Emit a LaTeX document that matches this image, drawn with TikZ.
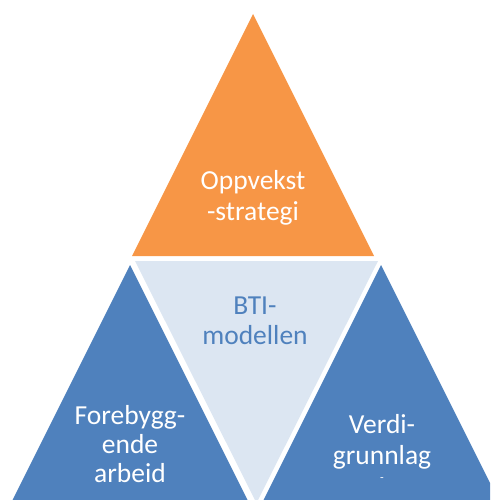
\documentclass[tikz,border=0pt]{standalone}
\usepackage{fontspec}
\setmainfont{Carlito}
\usepackage{tikz}
\usetikzlibrary{positioning}
\definecolor{oppOrange}{HTML}{F79646}
\definecolor{btiBlue}{HTML}{4F81BD}
\definecolor{btiLight}{HTML}{DCE6F2}

\begin{document}
\begin{tikzpicture}[x=1pt,y=-1pt,
		lbl/.style={align=center,inner sep=0pt,text=white,font=\fontsize{27.5}{30.5}\selectfont},
		midlbl/.style={lbl,text=btiBlue}]
	\useasboundingbox (0,0) rectangle (490,500);
	\clip (0,0) rectangle (490,500);
	% the four triangles
	\fill[oppOrange] (253,14) -- (374,256) -- (132,256) -- cycle;
	\fill[btiLight] (135,261) -- (378,261) -- (256.5,503) -- cycle;
	\fill[btiBlue] (130,265) -- (251,507) -- (9,507) -- cycle;
	\fill[btiBlue] (381,265) -- (502,507) -- (260,507) -- cycle;
	% texts
	\node[lbl] (opp) at (253,198) {Oppvekst\\-strategi};
	\node[midlbl] (bti) at (255,321) {BTI-\\modellen};
	\node[lbl,font=\fontsize{27.5}{29}\selectfont] (fore) at (130,444.5) {Forebygg-\\ende\\arbeid};
	\node[lbl] (verdi) at (382,448) {Verdi-\\grunnlag\\[-13pt]{\fontsize{12}{12}\selectfont -}};
\end{tikzpicture}
\end{document}
